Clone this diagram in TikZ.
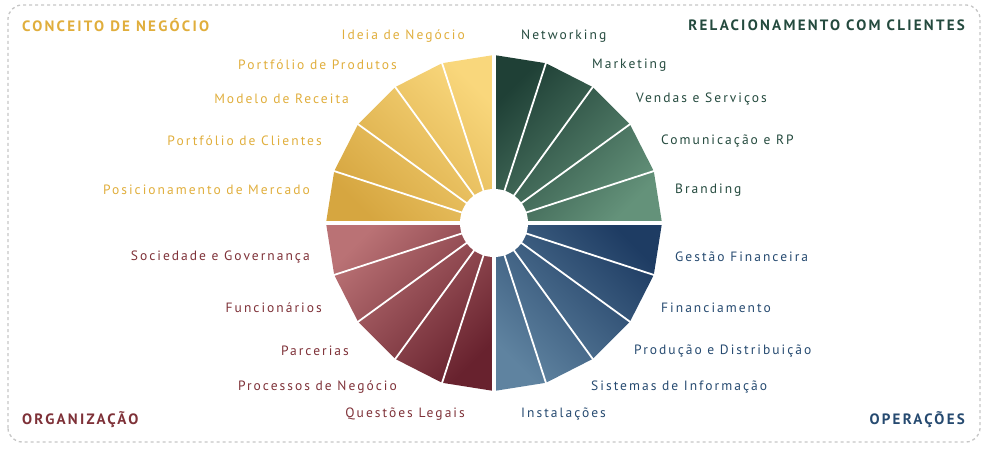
\documentclass[tikz,border=0pt]{standalone}
\usepackage{fontspec}
\setmainfont{PT Sans}[LetterSpace=15]
\begin{document}
\begin{tikzpicture}[x=1pt,y=1pt,
 lab/.style={font=\fontsize{13.5}{15}\selectfont, inner sep=0pt},
 head/.style={font=\bfseries\fontsize{15}{17}\selectfont, inner sep=0pt}]
\definecolor{ylo}{HTML}{F9D77C}\definecolor{ydk}{HTML}{D6A640}
\definecolor{gdk}{HTML}{1F4036}\definecolor{glt}{HTML}{64927A}
\definecolor{blt}{HTML}{5F83A0}\definecolor{bdk}{HTML}{1E3C63}
\definecolor{rlt}{HTML}{BA7275}\definecolor{rdk}{HTML}{68222E}
\definecolor{ytx}{HTML}{E0AE3C}\definecolor{gtx}{HTML}{244A3E}
\definecolor{btx}{HTML}{264A70}\definecolor{rtx}{HTML}{7E3138}
\useasboundingbox (0,0) rectangle (986,448);
\draw[gray!45, dashed, line width=1.3pt, rounded corners=14pt] (8,6) rectangle (980,443);
\coordinate (c) at (494,225);
\begin{scope}[shift={(494,225)}]
\def\R{168}
\shade[left color=ylo, right color=ydk, shading angle=-45] (0,0) -- (90:\R) -- (108:\R) -- (126:\R) -- (144:\R) -- (162:\R) -- (180:\R) -- cycle;
\shade[left color=gdk, right color=glt, shading angle=45] (0,0) -- (90:\R) -- (72:\R) -- (54:\R) -- (36:\R) -- (18:\R) -- (0:\R) -- cycle;
\shade[left color=bdk, right color=blt, shading angle=-45] (0,0) -- (0:\R) -- (-18:\R) -- (-36:\R) -- (-54:\R) -- (-72:\R) -- (-90:\R) -- cycle;
\shade[left color=rlt, right color=rdk, shading angle=45] (0,0) -- (180:\R) -- (198:\R) -- (216:\R) -- (234:\R) -- (252:\R) -- (270:\R) -- cycle;
\foreach \a in {18,36,54,72,108,126,144,162,198,216,234,252,288,306,324,342}
  \draw[white, line width=1.8pt] (0,0) -- (\a:\R+2);
\foreach \a in {0,90,180,270}
  \draw[white, line width=4.5pt] (0,0) -- (\a:\R+3);
\fill[white] (0,0) circle (34);
\end{scope}
% labels green
\node[lab, text=gtx, anchor=west] (n1) at (521,412) {Networking};
\node[lab, text=gtx, anchor=west] (n2) at (592,383) {Marketing};
\node[lab, text=gtx, anchor=west] (n3) at (636,349) {Vendas e Serviços};
\node[lab, text=gtx, anchor=west] (n4) at (661,307) {Comunicação e RP};
\node[lab, text=gtx, anchor=west] (n5) at (675,258) {Branding};
% blue
\node[lab, text=btx, anchor=west] (b1) at (675,191) {Gestão Financeira};
\node[lab, text=btx, anchor=west] (b2) at (661,140) {Financiamento};
\node[lab, text=btx, anchor=west] (b3) at (634,97) {Produção e Distribuição};
\node[lab, text=btx, anchor=west] (b4) at (591,61) {Sistemas de Informação};
\node[lab, text=btx, anchor=west] (b5) at (521,34) {Instalações};
% yellow
\node[lab, text=ytx, anchor=east] (y1) at (465,412) {Ideia de Negócio};
\node[lab, text=ytx, anchor=east] (y2) at (397,383) {Portfólio de Produtos};
\node[lab, text=ytx, anchor=east] (y3) at (349,349) {Modelo de Receita};
\node[lab, text=ytx, anchor=east] (y4) at (322,307) {Portfólio de Clientes};
\node[lab, text=ytx, anchor=east] (y5) at (310,258) {Posicionamento de Mercado};
% red
\node[lab, text=rtx, anchor=east] (r1) at (310,191) {Sociedade e Governança};
\node[lab, text=rtx, anchor=east] (r2) at (322,140) {Funcionários};
\node[lab, text=rtx, anchor=east] (r3) at (349,97) {Parcerias};
\node[lab, text=rtx, anchor=east] (r4) at (397,61) {Processos de Negócio};
\node[lab, text=rtx, anchor=east] (r5) at (465,34) {Questões Legais};
% headings
\node[head, text=ytx, anchor=west] (h1) at (22,423) {CONCEITO DE NEGÓCIO};
\node[head, text=gtx, anchor=east] (h2) at (965,423) {RELACIONAMENTO COM CLIENTES};
\node[head, text=rtx, anchor=west] (h3) at (22,28) {ORGANIZAÇÃO};
\node[head, text=btx, anchor=east] (h4) at (965,28) {OPERAÇÕES};
\end{tikzpicture}
\end{document}
